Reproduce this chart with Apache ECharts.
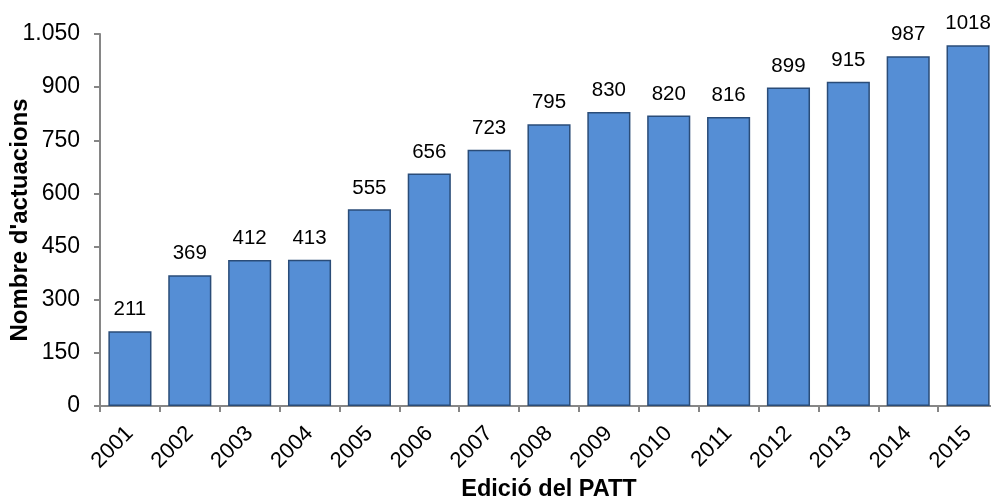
<!DOCTYPE html>
<html>
<head>
<meta charset="utf-8">
<script src="https://cdn.jsdelivr.net/npm/echarts@6/dist/echarts.min.js"></script>
<style>
  html, body { margin: 0; padding: 0; background: #fff; }
  #chart-container { width: 991px; height: 502px; }
</style>
</head>
<body>
<div id="chart-container"></div>
<script>
// Dades del gràfic
const years = ['2001', '2002', '2003', '2004', '2005', '2006', '2007', '2008',
  '2009', '2010', '2011', '2012', '2013', '2014', '2015'];
const actuacions = [211, 369, 412, 413, 555, 656, 723, 795, 830, 820, 816, 899, 915, 987, 1018];
const yTicks = [0, 150, 300, 450, 600, 750, 900, 1050];

const font = '"Liberation Sans", Arial, sans-serif';
const chart = echarts.init(document.getElementById('chart-container'));

chart.setOption({
  animation: false,
  grid: {
    left: 100,
    top: 34,
    width: 898,
    height: 372,
    outerBoundsMode: 'none'
  },
  xAxis: {
    type: 'category',
    data: years,
    name: 'Edició del PATT',
    nameLocation: 'middle',
    nameGap: 72,
    nameMoveOverlap: false,
    nameTextStyle: { fontFamily: font, fontSize: 23.5, fontWeight: 'bold', color: '#000' },
    axisLine: { lineStyle: { color: '#868686', width: 2 } },
    axisTick: { show: true, length: 6, lineStyle: { color: '#868686', width: 2 } },
    axisLabel: {
      rotate: 45,
      margin: 24,
      fontFamily: font,
      fontSize: 22,
      color: '#000'
    }
  },
  yAxis: {
    type: 'value',
    min: yTicks[0],
    max: yTicks[yTicks.length - 1],
    interval: 150,
    name: "Nombre d'actuacions",
    nameLocation: 'middle',
    nameGap: 68,
    nameMoveOverlap: false,
    nameTextStyle: { fontFamily: font, fontSize: 24, fontWeight: 'bold', color: '#000' },
    axisLine: { show: true, lineStyle: { color: '#868686', width: 2 } },
    axisTick: { show: true, length: 6, lineStyle: { color: '#868686', width: 2 } },
    splitLine: { show: false },
    axisLabel: {
      margin: 20,
      fontFamily: font,
      fontSize: 23,
      color: '#000',
      formatter: function (v) {
        // separador de milers amb punt
        return String(v).replace(/\B(?=(\d{3})+(?!\d))/g, '.');
      }
    }
  },
  series: [{
    type: 'bar',
    data: actuacions,
    barCategoryGap: '28%',
    itemStyle: {
      color: '#558ED5',
      borderColor: '#2A4C78',
      borderWidth: 1.5
    },
    label: {
      show: true,
      position: 'top',
      distance: 11,
      fontFamily: font,
      fontSize: 20.5,
      color: '#000'
    }
  }]
});
</script>
</body>
</html>
